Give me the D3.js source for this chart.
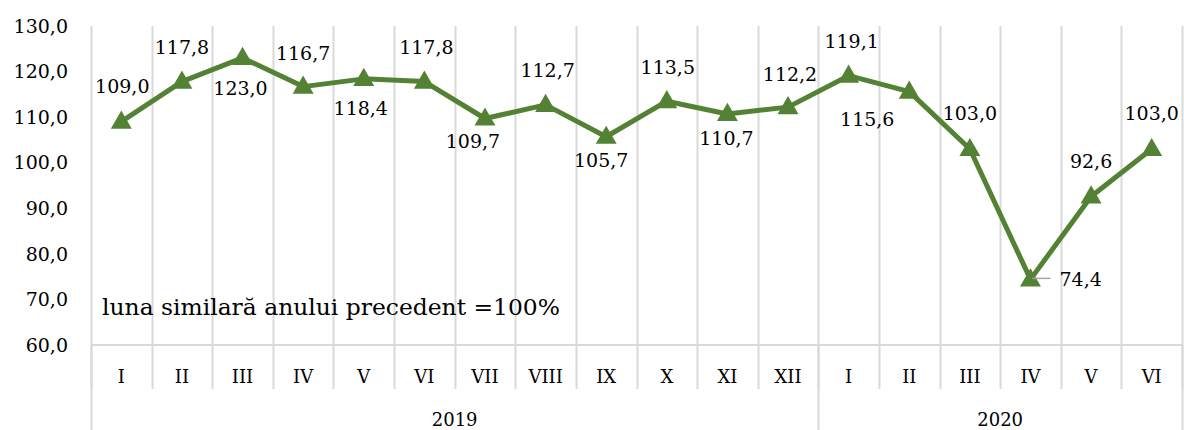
<!DOCTYPE html>
<html>
<head>
<meta charset="utf-8">
<script src="https://cdn.jsdelivr.net/npm/d3@7"></script>
<style>
  body { margin: 0; background: #fff; }
  text { font-family: "DejaVu Serif", serif; fill: #000; }
</style>
</head>
<body>
<svg width="1184" height="430"></svg>
<script>
// Data
var months = ["I", "II", "III", "IV", "V", "VI", "VII", "VIII", "IX", "X", "XI", "XII",
              "I", "II", "III", "IV", "V", "VI"];
var years = ["2019", "2020"];
var monthsPerYear = [12, 6];
var values = [109.0, 117.8, 123.0, 116.7, 118.4, 117.8, 109.7, 112.7, 105.7, 113.5, 110.7, 112.2,
              119.1, 115.6, 103.0, 74.4, 92.6, 103.0];
var yTicks = [60, 70, 80, 90, 100, 110, 120, 130];
var note = "luna similară anului precedent =100%";

// data label nudges (pixels from the marker), as placed in the original
var labelDx = [1, 0, -2, 0, -3, 2, -12, 2, -5, 1, -1, 2, 3, -42, 0, 29, 0, 0];
var labelDy = [-35, -34, 30, -33, 29, -34, 23, -34, 24, -34, 24, -33, -34, 28, -36, 0, -35, -36];

//==========================================================================
// Layout
var margin = { top: 26, right: 2, bottom: 85, left: 91 };
var width = 1184 - margin.left - margin.right;
var height = 430 - margin.top - margin.bottom;
var green = "#548235";
var grid = "#d9d9d9";
var fmt = function(v) { return d3.format(".1f")(v).replace(".", ","); };

var svg = d3.select("svg");
var chart = svg.append("g")
    .attr("transform", "translate(" + margin.left + "," + margin.top + ")")
;

var xScale = d3.scaleBand()
    .domain(d3.range(months.length))
    .range([0, width])
;
var yScale = d3.scaleLinear()
    .domain([60, 130])
    .range([height, 0])
;
var edge = function(i) { return Math.round(i * xScale.step()) + 0.5; };

// vertical grid lines at category boundaries
chart.selectAll(".vgrid")
    .data(d3.range(months.length + 1))
    .enter()
    .append("line")
    .attr("x1", edge)
    .attr("x2", edge)
    .attr("y1", 0)
    .attr("y2", height + 44)
    .attr("stroke", grid)
    .attr("stroke-width", 2)
;

// year separators going down further
var yearStarts = [0];
monthsPerYear.forEach(function(n, i) { yearStarts.push(yearStarts[i] + n); });
chart.selectAll(".ysep")
    .data(yearStarts)
    .enter()
    .append("line")
    .attr("x1", edge)
    .attr("x2", edge)
    .attr("y1", height)
    .attr("y2", height + margin.bottom)
    .attr("stroke", grid)
    .attr("stroke-width", 2)
;

// x axis line
chart.append("line")
    .attr("x1", 0).attr("x2", width)
    .attr("y1", height).attr("y2", height)
    .attr("stroke", grid)
    .attr("stroke-width", 2)
;

// y axis labels
chart.selectAll(".ylab")
    .data(yTicks)
    .enter()
    .append("text")
    .attr("x", -23)
    .attr("y", function(d) { return yScale(d); })
    .attr("dy", "0.35em")
    .attr("text-anchor", "end")
    .style("font-size", "19px")
    .text(fmt)
;

// month labels
chart.selectAll(".mlab")
    .data(months)
    .enter()
    .append("text")
    .attr("x", function(d, i) { return xScale(i) + xScale.bandwidth() / 2; })
    .attr("y", height + 32)
    .attr("dy", "0.35em")
    .attr("text-anchor", "middle")
    .style("font-size", "18px")
    .text(function(d) { return d; })
;

// year labels
chart.selectAll(".yrlab")
    .data(years)
    .enter()
    .append("text")
    .attr("x", function(d, i) {
        return (yearStarts[i] + yearStarts[i + 1]) / 2 * xScale.step();
    })
    .attr("y", height + 75)
    .attr("dy", "0.35em")
    .attr("text-anchor", "middle")
    .style("font-size", "18px")
    .text(function(d) { return d; })
;

// note
chart.append("text")
    .attr("x", 11)
    .attr("y", yScale(70) + 16)
    .attr("textLength", 458)
    .attr("lengthAdjust", "spacingAndGlyphs")
    .style("font-size", "22px")
    .text(note)
;

// line
var cx = function(i) { return xScale(i) + xScale.bandwidth() / 2; };
var line = d3.line()
    .x(function(d, i) { return cx(i); })
    .y(function(d) { return yScale(d); })
;
chart.append("path")
    .datum(values)
    .attr("d", line)
    .attr("fill", "none")
    .attr("stroke", green)
    .attr("stroke-width", 5)
    .attr("stroke-linejoin", "round")
;

// triangle markers
var tri = d3.symbol().type(d3.symbolTriangle).size(190);
chart.selectAll(".marker")
    .data(values)
    .enter()
    .append("path")
    .attr("d", tri)
    .attr("transform", function(d, i) {
        return "translate(" + cx(i) + "," + (yScale(d) + 1) + ")";
    })
    .attr("fill", green)
;

// leader line for the label sitting beside its point
values.forEach(function(v, i) {
    if (labelDy[i] === 0) {
        chart.append("line")
            .attr("x1", cx(i) + 2).attr("x2", cx(i) + labelDx[i] - 9)
            .attr("y1", yScale(v) - 1).attr("y2", yScale(v) - 1)
            .attr("stroke", "#a6a6a6")
            .attr("stroke-width", 1.5)
        ;
    }
});

// data labels
chart.selectAll(".dlab")
    .data(values)
    .enter()
    .append("text")
    .attr("x", function(d, i) { return cx(i) + labelDx[i]; })
    .attr("y", function(d, i) { return yScale(d) + labelDy[i]; })
    .attr("dy", "0.35em")
    .attr("text-anchor", function(d, i) { return labelDy[i] === 0 ? "start" : "middle"; })
    .style("font-size", "19px")
    .text(fmt)
;
</script>
</body>
</html>
